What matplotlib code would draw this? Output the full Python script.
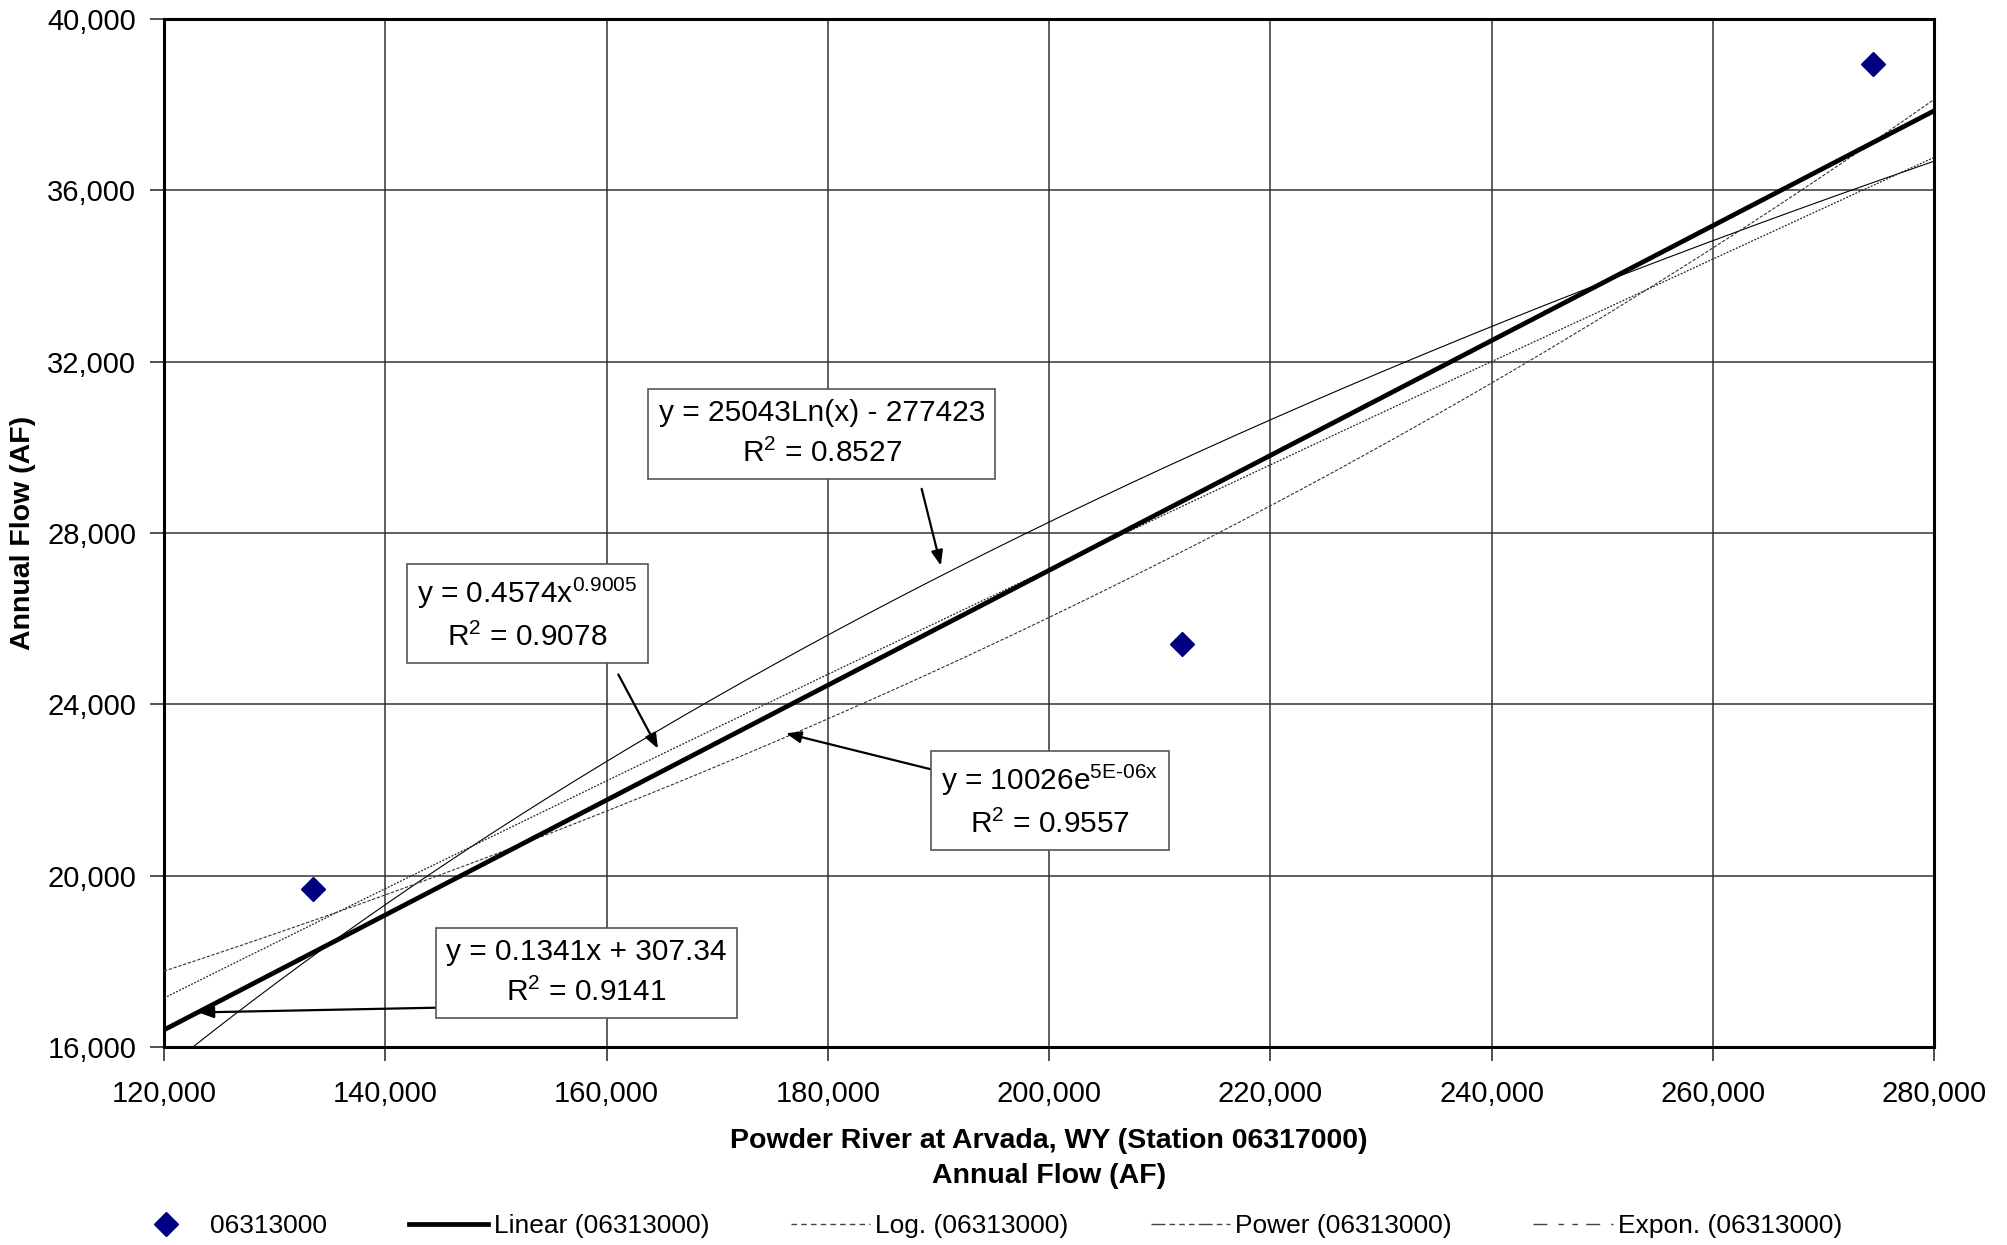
import numpy as np
import matplotlib
matplotlib.use("Agg")
import matplotlib.pyplot as plt
from matplotlib.lines import Line2D
from matplotlib.ticker import FuncFormatter, MultipleLocator

plt.rcParams['font.family'] = ['Liberation Sans', 'DejaVu Sans']
plt.rcParams['mathtext.default'] = 'regular'

# measured points (Powder River at Arvada vs station 06313000)
x_obs = [133500, 212000, 274500]
y_obs = [19700, 25400, 38950]

# trend line coefficients as printed on the chart
lin_a, lin_b = 0.1341, 307.34
log_a, log_b = 25043, -277423
pow_a, pow_b = 0.4574, 0.9005
exp_a, exp_b = 10026, 4.77e-6   # label shows rounded 5E-06

series_name = "06313000"

fig = plt.figure(figsize=(20.07, 12.45), dpi=100)
ax = fig.add_axes([164 / 2007, 1 - 1047 / 1245, (1934 - 164) / 2007, (1047 - 19) / 1245])

xs = np.linspace(120000, 280000, 400)
ax.plot(xs, log_a * np.log(xs) + log_b, color='black', lw=0.8, zorder=3)
ax.plot(xs, pow_a * xs ** pow_b, color='#222222', lw=0.9, ls=(0, (1.5, 1.2)), zorder=3)
ax.plot(xs, exp_a * np.exp(exp_b * xs), color='#333333', lw=0.8, ls=(0, (3, 1.5)), zorder=3)
ax.plot(xs, lin_a * xs + lin_b, color='black', lw=3.4, zorder=4, solid_capstyle='butt')
ax.plot(x_obs, y_obs, 'D', color='#000080', ms=12, zorder=5, ls='none')

ax.set_xlim(120000, 280000)
ax.set_ylim(16000, 40000)
ax.xaxis.set_major_locator(MultipleLocator(20000))
ax.yaxis.set_major_locator(MultipleLocator(4000))
fmt = FuncFormatter(lambda v, p: f"{int(v):,}")
ax.xaxis.set_major_formatter(fmt)
ax.yaxis.set_major_formatter(fmt)
ax.tick_params(direction='out', length=10, width=1.2, color='#333333', labelsize=21)
ax.tick_params(axis='x', pad=14)
ax.tick_params(axis='y', pad=10)
ax.grid(True, color='#333333', lw=1.1)
ax.set_axisbelow(True)
for s in ax.spines.values():
    s.set_linewidth(2.2)

ax.set_xlabel("Powder River at Arvada, WY (Station 06317000)\nAnnual Flow (AF)",
              fontsize=20.5, fontweight='bold', labelpad=14, linespacing=1.45)
fig.text(23 / 2007, 1 - 533 / 1245, "Annual Flow (AF)", fontsize=20.5, fontweight='bold',
         rotation=90, ha='center', va='center')

box = dict(boxstyle='square,pad=0.35', fc='white', ec='#555555', lw=1.2)
labels = [
    ("y = 25043Ln(x) - 277423\nR$^{2}$ = 0.8527", (179465, 30316), (188489, 29031), (190224, 27238)),
    ("y = 0.4574x$^{0.9005}$\nR$^{2}$ = 0.9078", (152856, 26102), (161070, 24697), (164656, 22964)),
    ("y = 10026e$^{5E\u201006x}$\nR$^{2}$ = 0.9557", (200058, 21739), (190224, 22426), (176226, 23323)),
    ("y = 0.1341x + 307.34\nR$^{2}$ = 0.9141", (158178, 17733), (146262, 16926), (123124, 16807)),
]
for txt, pos, tail, head in labels:
    ax.annotate("", xy=head, xytext=tail,
                arrowprops=dict(arrowstyle='-|>,head_length=0.9,head_width=0.35',
                                color='black', lw=1.6, shrinkA=0, shrinkB=0), zorder=6)
    ax.text(pos[0], pos[1], txt, fontsize=21.5, ha='center', va='center',
            multialignment='center', bbox=box, zorder=7, linespacing=1.5)

handles = [
    Line2D([], [], marker='D', color='#000080', ls='none', ms=12),
    Line2D([], [], color='black', lw=3.4),
    Line2D([], [], color='#444444', lw=1.0, ls=(0, (4, 3))),
    Line2D([], [], color='#444444', lw=1.0, ls=(0, (10, 3, 4, 3, 4, 3, 4, 3))),
    Line2D([], [], color='#444444', lw=1.0, ls=(0, (10, 8, 4, 6, 4, 6))),
]
names = [series_name, f"Linear ({series_name})", f"Log. ({series_name})",
         f"Power ({series_name})", f"Expon. ({series_name})"]
fig.legend(handles, names, loc='center left', bbox_to_anchor=(126 / 2007, 1 - 1226 / 1245),
           ncol=5, frameon=False, fontsize=19, handlelength=3.0, handletextpad=0.2,
           columnspacing=3.1, borderpad=0, borderaxespad=0)

fig.savefig("out.png", dpi=100)
